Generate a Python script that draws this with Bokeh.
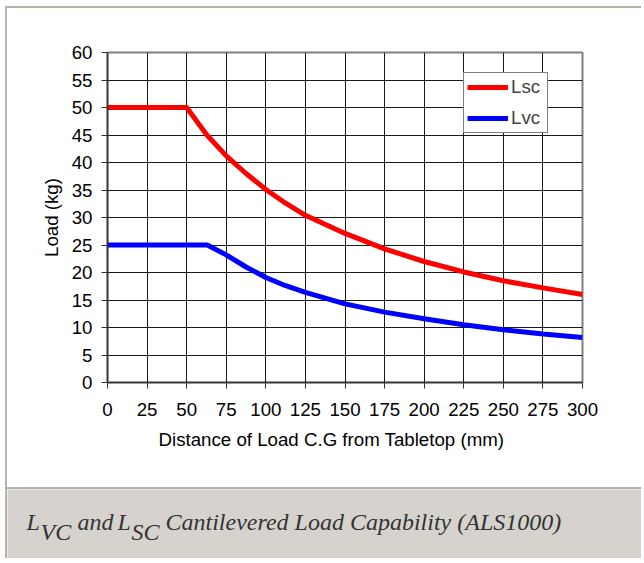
from bokeh.plotting import figure
from bokeh.models import FixedTicker, Range1d, Legend, LegendItem, Label, Title
from bokeh.embed import file_html
from bokeh.resources import INLINE

# ---- data ----
x_sc = [0, 25, 50, 62.5, 75, 87.5, 100, 112.5, 125, 150, 175, 200, 225, 250, 275, 300]
l_sc = [50, 50, 50, 45.1, 41.2, 38.0, 35.1, 32.6, 30.4, 27.1, 24.3, 22.0, 20.1, 18.5, 17.2, 16.0]
x_vc = [0, 25, 50, 63, 75, 87.5, 100, 112.5, 125, 150, 175, 200, 225, 250, 275, 300]
l_vc = [25, 25, 25, 25, 23.2, 21.0, 19.1, 17.6, 16.4, 14.3, 12.8, 11.6, 10.5, 9.6, 8.8, 8.2]
x_ticks = [0, 25, 50, 75, 100, 125, 150, 175, 200, 225, 250, 275, 300]
y_ticks = [0, 5, 10, 15, 20, 25, 30, 35, 40, 45, 50, 55, 60]
series_names = ["Lsc", "Lvc"]
series_colors = ["#ff0000", "#0000ff"]
x_title = "Distance of Load C.G from Tabletop (mm)"
y_title = "Load (kg)"
caption_parts = ["L", "VC", "and", "L", "SC", "Cantilevered Load Capability (ALS1000)"]
caption_sub = [False, True, False, False, True, False]

FONT = "Liberation Sans"
FS = "18.7px"
BORDER = "2px solid #b8b2aa"
W = 636

p = figure(width=W, height=481, output_backend="svg", toolbar_location=None,
           x_range=Range1d(0, 300), y_range=Range1d(0, 60),
           min_border_left=100, min_border_right=61, min_border_top=44,
           min_border_bottom=107, margin=(6, 0, 0, 5),
           styles={"border-left": BORDER, "border-top": BORDER})
p.background_fill_color = "white"
p.border_fill_color = "white"
p.outline_line_color = "#808080"
p.outline_line_width = 2

for ax in (p.xaxis[0], p.yaxis[0]):
    ax.major_label_text_font = FONT
    ax.major_label_text_font_size = FS
    ax.major_label_text_color = "black"
    ax.axis_label_text_font = FONT
    ax.axis_label_text_font_size = FS
    ax.axis_label_text_font_style = "normal"
    ax.axis_label_text_color = "black"
    ax.axis_line_color = "#333333"
    ax.axis_line_width = 1.5
    ax.major_tick_line_color = "#333333"
    ax.major_tick_out = 6
    ax.major_tick_in = 0
    ax.minor_tick_line_color = None

p.xaxis.ticker = FixedTicker(ticks=x_ticks)
p.yaxis.ticker = FixedTicker(ticks=y_ticks)
p.yaxis.axis_label = y_title
p.xaxis.major_label_standoff = 14
p.yaxis.major_label_standoff = 9
p.yaxis.axis_label_standoff = 7

# x-axis title (slightly left of the frame centre, as in the reference)
p.add_layout(Title(text=x_title, align="left", offset=51, standoff=17,
                   text_font=FONT, text_font_size=FS, text_font_style="normal",
                   text_color="black"), "below")

p.xgrid.ticker = FixedTicker(ticks=x_ticks)
p.ygrid.ticker = FixedTicker(ticks=y_ticks)
for g in (p.xgrid[0], p.ygrid[0]):
    g.grid_line_color = "#1a1a1a"
    g.grid_line_width = 1

r1 = p.line(x_sc, l_sc, line_color=series_colors[0], line_width=5, line_join="round")
r2 = p.line(x_vc, l_vc, line_color=series_colors[1], line_width=5, line_join="round")

legend = Legend(items=[LegendItem(label=series_names[0], renderers=[r1]),
                       LegendItem(label=series_names[1], renderers=[r2])],
                location=(356, 249), padding=3, margin=0, spacing=9,
                glyph_width=41, glyph_height=18, label_height=18, label_width=33,
                label_standoff=3, label_text_font=FONT, label_text_font_size=FS,
                border_line_color="black", border_line_width=1,
                background_fill_color="white", background_fill_alpha=1)
p.add_layout(legend)

# caption band
CH = 71
c = figure(width=W, height=CH, output_backend="svg", toolbar_location=None,
           x_range=Range1d(0, W), y_range=Range1d(CH, 0),
           min_border=0, x_axis_type=None, y_axis_type=None,
           margin=(0, 0, 0, 5), styles={"border-left": BORDER, "border-top": BORDER})
c.grid.visible = False
c.outline_line_color = None
c.background_fill_color = "#d6d3ce"
c.border_fill_color = "#d6d3ce"
cap_x = [19, 33, 70, 110, 124, 158]
for txt, sub, xx in zip(caption_parts, caption_sub, cap_x):
    c.add_layout(Label(x=xx, y=42 if sub else 32, text=txt,
                       text_font="Liberation Serif", text_font_style="italic",
                       text_font_size="24px", text_color="#333333",
                       text_baseline="alphabetic"))

open("out.html", "w").write(file_html([p, c], INLINE))
